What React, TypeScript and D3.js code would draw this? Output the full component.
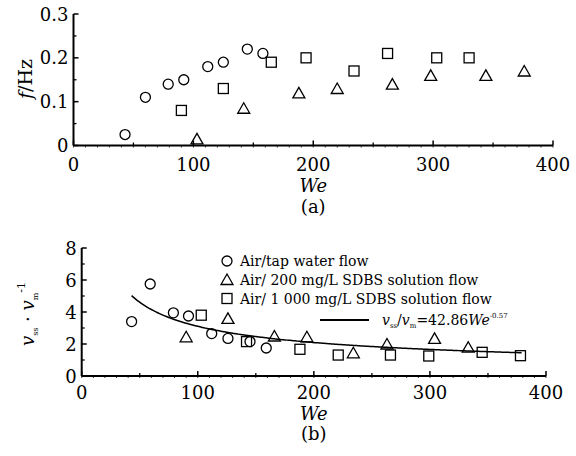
import React from 'react';
import * as d3 from 'd3';

// panel (a): frequency vs We
const topWaterWe = [43, 60, 79, 92, 112, 125, 145, 158];
const topWaterF = [0.025, 0.11, 0.14, 0.15, 0.18, 0.19, 0.22, 0.21];
const top200We = [103, 142, 188, 220, 266, 298, 344, 376];
const top200F = [0.015, 0.085, 0.12, 0.13, 0.14, 0.16, 0.16, 0.17];
const top1000We = [90, 125, 165, 194, 234, 262, 303, 330];
const top1000F = [0.08, 0.13, 0.19, 0.2, 0.17, 0.21, 0.2, 0.2];

// panel (b): velocity ratio vs We
const botWaterWe = [43, 59, 79, 92, 112, 126, 145, 159];
const botWaterV = [3.4, 5.75, 3.95, 3.75, 2.65, 2.35, 2.15, 1.75];
const bot200We = [90, 126, 166, 194, 234, 263, 304, 333];
const bot200V = [2.45, 3.6, 2.5, 2.45, 1.45, 2.0, 2.35, 1.8];
const bot1000We = [103, 142, 188, 221, 266, 299, 345, 378];
const bot1000V = [3.8, 2.15, 1.67, 1.31, 1.31, 1.25, 1.48, 1.27];

const fitCoef = 42.86;
const fitExp = -0.57;
const fitRange = [43, 380];

const xTicks = [0, 100, 200, 300, 400];
const topYTicks = [0, 0.1, 0.2, 0.3];
const botYTicks = [0, 2, 4, 6, 8];

const legendLabels = [
  'Air/tap water flow',
  'Air/ 200 mg/L SDBS solution flow',
  'Air/ 1 000 mg/L SDBS solution flow',
];

const serif = { fontFamily: "'DejaVu Serif', serif" };

const Marker = ({ kind, x, y }: { kind: string; x: number; y: number }) => {
  if (kind === 'circle') return <circle cx={x} cy={y} r={5} fill="none" stroke="#000" strokeWidth={1.3} />;
  if (kind === 'square')
    return <rect x={x - 5} y={y - 5} width={10} height={10} fill="none" stroke="#000" strokeWidth={1.3} />;
  return (
    <path
      d={`M${x},${y - 5.5}L${x + 6},${y + 5}L${x - 6},${y + 5}Z`}
      fill="none"
      stroke="#000"
      strokeWidth={1.3}
    />
  );
};

const Axes = ({ x, y, yTicks, yMinor, fmt, labelDy }: any) => {
  const [x0, x1] = x.range();
  const [y0, y1] = y.range();
  const fine = d3.range(0, 401, 10);
  return (
    <g stroke="#000">
      <line x1={x0} x2={x1} y1={y0} y2={y0} strokeWidth={2} />
      <line x1={x0} x2={x0} y1={y0} y2={y1} strokeWidth={2} />
      {fine.map((t) => (
        <line key={'f' + t} x1={x(t)} x2={x(t)} y1={y0} y2={y0 + 2} strokeWidth={0.8} />
      ))}
      {xTicks.map((t) => (
        <line key={'x' + t} x1={x(t)} x2={x(t)} y1={y0} y2={y0 - 5} strokeWidth={1.5} />
      ))}
      {[50, 150, 250, 350].map((t) => (
        <line key={'m' + t} x1={x(t)} x2={x(t)} y1={y0} y2={y0 - 3} strokeWidth={1.3} />
      ))}
      {yTicks.map((t: number) => (
        <line key={'y' + t} x1={x0} x2={x0 + 5} y1={y(t)} y2={y(t)} strokeWidth={1.5} />
      ))}
      {yMinor.map((t: number) => (
        <line key={'ym' + t} x1={x0} x2={x0 + 3} y1={y(t)} y2={y(t)} strokeWidth={1.3} />
      ))}
      <g stroke="none" fill="#000" style={serif} fontSize={18}>
        {xTicks.map((t) => (
          <text key={'xl' + t} x={x(t)} y={y0 + labelDy} textAnchor="middle">
            {t}
          </text>
        ))}
        {yTicks.map((t: number) => (
          <text key={'yl' + t} x={x0 - 5} y={y(t) + 6.5} textAnchor="end">
            {fmt(t)}
          </text>
        ))}
      </g>
    </g>
  );
};

export default function App() {
  const xTop = d3.scaleLinear().domain([0, 400]).range([73.5, 553]);
  const yTop = d3.scaleLinear().domain([0, 0.3]).range([145.5, 14]);
  const xBot = d3.scaleLinear().domain([0, 400]).range([81.7, 546]);
  const yBot = d3.scaleLinear().domain([0, 8]).range([376, 248]);

  const topSeries = [
    { kind: 'circle', we: topWaterWe, v: topWaterF },
    { kind: 'triangle', we: top200We, v: top200F },
    { kind: 'square', we: top1000We, v: top1000F },
  ];
  const botSeries = [
    { kind: 'circle', we: botWaterWe, v: botWaterV },
    { kind: 'triangle', we: bot200We, v: bot200V },
    { kind: 'square', we: bot1000We, v: bot1000V },
  ];

  const fitPts = d3.range(fitRange[0], fitRange[1] + 0.5, 2).map((w) => [w, fitCoef * Math.pow(w, fitExp)]);
  const fitLine = d3
    .line<number[]>()
    .x((d) => xBot(d[0]))
    .y((d) => yBot(d[1]))
    .curve(d3.curveMonotoneX)(fitPts);

  const legendX = 227;
  const legendY = [261, 279.5, 298.5];

  return (
    <div style={{ position: 'absolute', left: 0, top: 0 }}>
      <svg width={576} height={456} style={{ display: 'block', background: '#fff' }}>
        {/* panel (a) */}
        <Axes x={xTop} y={yTop} yTicks={topYTicks} yMinor={[0.05, 0.15, 0.25]} labelDy={25} fmt={(t: number) => (t === 0 ? '0' : t.toFixed(1))} />
        {topSeries.map((s) =>
          s.we.map((w, i) => <Marker key={s.kind + i} kind={s.kind} x={xTop(w)} y={yTop(s.v[i])} />)
        )}
        <text x={32} y={79} transform="rotate(-90 32 79)" textAnchor="middle" style={serif} fontSize={19}>
          <tspan fontStyle="italic">f</tspan>/Hz
        </text>
        <text x={xTop(200)} y={192} textAnchor="middle" style={serif} fontSize={18} fontStyle="italic">
          We
        </text>
        <text x={xTop(200)} y={213} textAnchor="middle" style={serif} fontSize={18}>
          (a)
        </text>

        {/* panel (b) */}
        <Axes x={xBot} y={yBot} yTicks={botYTicks} yMinor={[1, 3, 5, 7]} labelDy={23} fmt={(t: number) => String(t)} />
        <path d={fitLine || ''} fill="none" stroke="#000" strokeWidth={1.5} />
        {botSeries.map((s) =>
          s.we.map((w, i) => <Marker key={'b' + s.kind + i} kind={s.kind} x={xBot(w)} y={yBot(s.v[i])} />)
        )}
        <text x={34} y={314} transform="rotate(-90 34 314)" textAnchor="middle" style={serif} fontSize={18}>
          <tspan fontStyle="italic">v</tspan>
          <tspan fontSize={8} dy={4}>ss</tspan>
          <tspan dy={-4}> · </tspan>
          <tspan fontStyle="italic">v</tspan>
          <tspan fontSize={8} dy={4}>m</tspan>
          <tspan fontSize={11} dy={-13}>-1</tspan>
        </text>
        <text x={xBot(200)} y={420} textAnchor="middle" style={serif} fontSize={18} fontStyle="italic">
          We
        </text>
        <text x={xBot(200)} y={440} textAnchor="middle" style={serif} fontSize={18}>
          (b)
        </text>

        {/* legend */}
        {botSeries.map((s, i) => (
          <g key={'lg' + i}>
            <Marker kind={s.kind} x={legendX} y={legendY[i]} />
            <text x={legendX + 13} y={legendY[i] + 5} style={serif} fontSize={14}>
              {legendLabels[i]}
            </text>
          </g>
        ))}
        <line x1={320} x2={369} y1={320} y2={320} stroke="#000" strokeWidth={1.8} />
        <text x={382} y={325} style={serif} fontSize={14}>
          <tspan fontStyle="italic">v</tspan>
          <tspan fontSize={7} dy={3}>ss</tspan>
          <tspan dy={-3}>/</tspan>
          <tspan fontStyle="italic">v</tspan>
          <tspan fontSize={7} dy={3}>m</tspan>
          <tspan dy={-3}>=42.86</tspan>
          <tspan fontStyle="italic">We</tspan>
          <tspan fontSize={7} dy={-7}>-0.57</tspan>
        </text>
      </svg>
    </div>
  );
}
